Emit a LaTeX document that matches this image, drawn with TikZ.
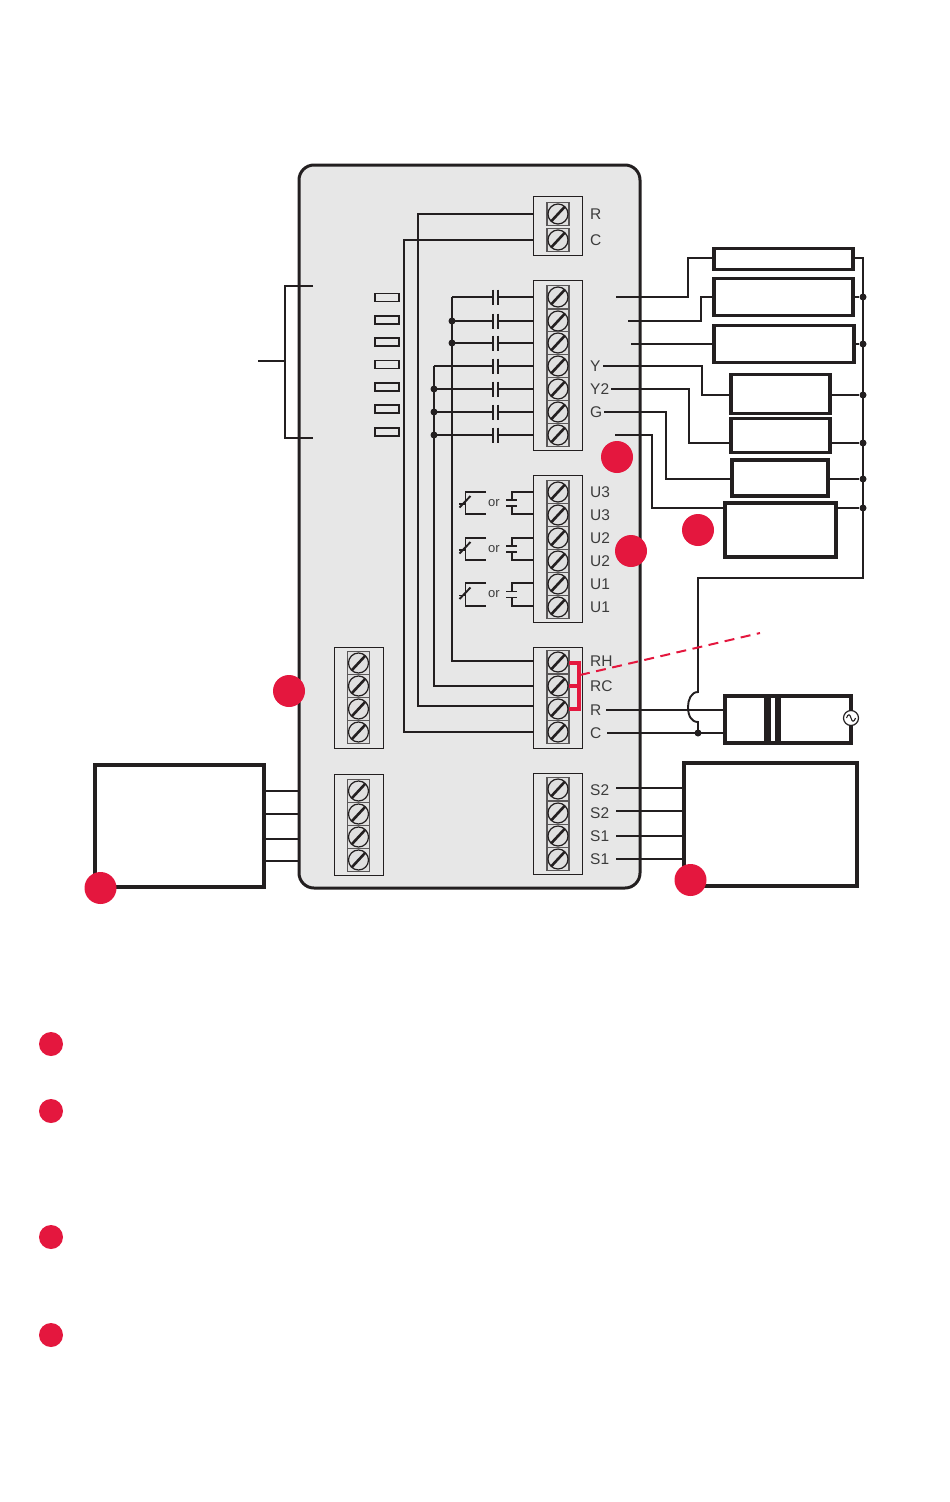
\documentclass[tikz,border=0pt]{standalone}
\usepackage{fontspec}
\setmainfont{Liberation Sans}
\definecolor{ink}{HTML}{231F20}
\definecolor{txt}{HTML}{3C3C3C}
\definecolor{panelgray}{HTML}{E7E7E7}
\definecolor{screwgray}{HTML}{E0E0E0}
\definecolor{hred}{HTML}{E4173E}
\tikzset{
  wire/.style={draw=ink,line width=2pt},
  thinwire/.style={draw=ink,line width=1.9pt},
  devbox/.style={draw=ink,fill=white,line width=3.3pt,inner sep=0pt,minimum width=#1},
  block/.style={draw=ink,fill=panelgray,line width=1pt,inner sep=0pt,minimum width=49pt},
  strip/.style={draw=ink!75,fill=screwgray,line width=1.4pt,inner sep=0pt,minimum width=22pt,minimum height=23pt},
  screwhead/.style={circle,draw=ink,fill=screwgray,line width=1.2pt,inner sep=0pt,minimum size=20pt},
  slash/.style={draw=ink,line width=2.6pt},
  term/.style={text=txt,font=\fontsize{15.5}{16}\selectfont,anchor=west,inner sep=0pt},
  ortext/.style={text=txt,font=\fontsize{13}{13}\selectfont,inner sep=0pt},
  dot/.style={circle,fill=ink,inner sep=0pt,minimum size=7pt},
  badge/.style={circle,fill=hred,inner sep=0pt,minimum size=#1},
  lamp/.style={draw=ink,fill=panelgray,line width=1.8pt,inner sep=0pt,minimum width=24pt,minimum height=8pt},
  jump/.style={draw=hred,line width=4pt},
  coil/.style={draw=ink,fill=white,line width=3.3pt,inner sep=0pt},
}
\newcommand{\screw}[3]{%
  \node[strip] (#1s) at (#2,#3) {};
  \node[screwhead] (#1) at (#2,#3) {};
  \draw[slash] ([shift={(-6.5pt,-7pt)}]#1.center) -- ([shift={(6.5pt,7pt)}]#1.center);
}
\newcommand{\relaycontact}[2]{%
  \coordinate (ct) at (512,#1);
  \coordinate (cb) at (512,#2);
  \draw[thinwire] (533,#1) -- (ct) -- (512,#1*0.5+#2*0.5-3);
  \draw[thinwire] (512,#1*0.5+#2*0.5+3) -- (cb) -- (533,#2);
  \draw[thinwire] (506,#1*0.5+#2*0.5-3) -- (517,#1*0.5+#2*0.5-3);
  \draw[thinwire] (506,#1*0.5+#2*0.5+3) -- (517,#1*0.5+#2*0.5+3);
  \node[ortext] at (494,#1*0.5+#2*0.5) {or};
  \draw[thinwire] (486,#1) -- (465.5,#1) -- (465.5,#2) -- (486,#2);
  \draw[thinwire] (459,#1*0.5+#2*0.5+1) -- (466,#1*0.5+#2*0.5+1);
  \draw[thinwire] (459.5,#1*0.5+#2*0.5+4.5) -- (470.5,#1*0.5+#2*0.5-7);
}
\begin{document}
\begin{tikzpicture}[x=1pt,y=-1pt]
\useasboundingbox (0,0) rectangle (950,1502);
\fill[white] (0,0) rectangle (950,1502);

% panel
\draw[ink,fill=panelgray,line width=3pt,rounded corners=15pt] (299,165) rectangle (640,888);

% terminal blocks
\node[block,minimum height=59pt] (blockA) at (557.5,226) {};
\node[block,minimum height=170pt] (blockB) at (557.5,365) {};
\node[block,minimum height=147pt] (blockC) at (557.5,548.5) {};
\node[block,minimum height=101pt] (blockD) at (557.5,697.5) {};
\node[block,minimum height=101pt] (blockE) at (557.5,823.5) {};
\node[block,minimum height=101pt] (blockF) at (358.5,697.5) {};
\node[block,minimum height=101pt] (blockG) at (358.5,825) {};

\screw{A1}{558}{214}\screw{A2}{558}{240}
\foreach \i/\y in {1/297,2/321,3/343,4/366,5/389,6/412,7/435}{\screw{B\i}{558}{\y}}
\foreach \i/\y in {1/492,2/515,3/538,4/561,5/584,6/607}{\screw{C\i}{558}{\y}}
\foreach \i/\y in {1/662,2/686,3/709,4/732}{\screw{D\i}{558}{\y}}
\foreach \i/\y in {1/789,2/813,3/836,4/859}{\screw{E\i}{558}{\y}}
\foreach \i/\y in {1/663,2/686,3/709,4/732}{\screw{F\i}{358.5}{\y}}
\foreach \i/\y in {1/791,2/814,3/837,4/860}{\screw{G\i}{358.5}{\y}}

% lamps
\foreach \i/\y in {1/297.5,2/320,3/342,4/364.5,5/387,6/409,7/432}{\node[lamp] (lamp\i) at (387,\y) {};}

% bracket
\coordinate (brT) at (313,286);
\coordinate (brB) at (313,438);
\coordinate (brS) at (258,361);
\draw[wire] (brT) -- (285,286) -- (285,438) -- (brB);
\draw[wire] (brS) -- (285,361);

% power wires in the panel
\coordinate (railR) at (418,214);
\coordinate (railC) at (404,240);
\coordinate (railH) at (452,297);
\coordinate (railK) at (434,366);
\draw[wire] (blockA.west |- A1) -- (railR) -- (418,706) -- (533,706);
\draw[wire] (blockA.west |- A2) -- (railC) -- (404,732) -- (blockD.west |- D4);
\draw[wire] (railH) -- (452,661) -- (533,661);
\draw[wire] (railK) -- (434,686) -- (blockD.west |- D2);

% relay contacts
\foreach \i/\y/\r in {1/297/452,2/321/452,3/343/452,4/366/434,5/389/434,6/412/434,7/435/434}{
  \draw[wire] (blockB.west |- B\i) -- (498,\y);
  \draw[wire] (493,\y) -- (\r,\y);
  \draw[wire] (493,\y-7.5) -- (493,\y+7.5);
  \draw[wire] (498,\y-7.5) -- (498,\y+7.5);
}
\foreach \r/\y/\n in {452/321/a,452/343/b,434/389/c,434/412/d,434/435/e}{\node[dot] (pd\n) at (\r,\y) {};}

% auxiliary contacts
\relaycontact{492}{514}
\relaycontact{538}{560}
\relaycontact{583}{606}

% devices on the right
\node[devbox=139pt,minimum height=21pt] (dev1) at (783.5,259) {};
\node[devbox=139pt,minimum height=37pt] (dev2) at (783.5,297) {};
\node[devbox=140pt,minimum height=37pt] (dev3) at (784,344) {};
\node[devbox=99pt,minimum height=39pt] (dev4) at (780.5,394) {};
\node[devbox=99pt,minimum height=34pt] (dev5) at (780.5,435.5) {};
\node[devbox=96pt,minimum height=36pt] (dev6) at (780,478) {};
\node[devbox=111pt,minimum height=54pt] (dev7) at (780.5,530) {};

\coordinate (t1) at (616,297);
\coordinate (t2) at (628,321);
\coordinate (t3) at (631,344);
\coordinate (tY) at (603,366);
\coordinate (tYtwo) at (611,389);
\coordinate (tG) at (604,412);
\coordinate (t7) at (615,435);
\coordinate (e4) at (731,395);
\coordinate (e5) at (731,443);
\coordinate (e6) at (732,479);
\coordinate (e7) at (725,508);
\draw[wire] (t1) -- (688,297) -- (688,258) -- (dev1.west |- 0,258);
\draw[wire] (t2) -- (701,321) -- (701,297) -- (dev2.west);
\draw[wire] (t3) -- (dev3.west);
\draw[wire] (tY) -- (702,366) -- (702,395) -- (e4);
\draw[wire] (tYtwo) -- (689,389) -- (689,443) -- (e5);
\draw[wire] (tG) -- (666,412) -- (666,479) -- (e6);
\draw[wire] (t7) -- (652,435) -- (652,508) -- (e7);

% common bus
\coordinate (busT) at (863,258);
\coordinate (busK) at (863,578);
\coordinate (bumpA) at (698,692);
\coordinate (bumpB) at (698,722);
\draw[thinwire] (dev1.east |- busT) -- (busT) -- (busK) -- (698,578) -- (bumpA)
  .. controls (691,692) and (688,700) .. (688,707)
  .. controls (688,715) and (691,722) .. (bumpB) -- (698,733);
\foreach \n/\y in {1/297,2/344,3/395,4/443,5/479,6/508}{
  \node[dot] (bd\n) at (863,\y) {};
}
\draw[wire] (dev2.east |- bd1) -- (bd1);
\draw[wire] (dev3.east |- bd2) -- (bd2);
\draw[wire] (dev4.east |- bd3) -- (bd3);
\draw[wire] (dev5.east |- bd4) -- (bd4);
\draw[wire] (dev6.east |- bd5) -- (bd5);
\draw[wire] (dev7.east |- bd6) -- (bd6);

% transformer
\node[coil,minimum width=41pt,minimum height=47pt] (trA) at (745.5,719.5) {};
\node[coil,minimum width=8pt,minimum height=47pt] (trB) at (773,719.5) {};
\node[coil,minimum width=72pt,minimum height=47pt] (trC) at (815,719.5) {};
\node[circle,draw=ink,fill=white,line width=1.2pt,inner sep=0pt,minimum size=15pt] (acs) at (851,718) {};
\draw[ink,line width=1.1pt] (846.5,718) .. controls (848,713.5) and (850,714) .. (851,718) .. controls (852,722) and (854,722.5) .. (855.5,718);
\coordinate (tR) at (606,710);
\coordinate (tC) at (607,733);
\draw[wire] (tR) -- (trA.west |- tR);
\draw[wire] (tC) -- (trA.west |- tC);
\node[dot] (cdot) at (698,733) {};

% jumper
\coordinate (dashA) at (580,675);
\coordinate (dashB) at (760,633);
\draw[hred,line width=2pt,dash pattern=on 10pt off 6.5pt] (dashA) -- (dashB);
\draw[jump] (569,663) -- (579,663) -- (579,709) -- (569,709);
\draw[jump] (569,686) -- (579,686);

% lower devices
\node[devbox=169pt,minimum height=122pt] (leftdev) at (179.5,826) {};
\node[devbox=173pt,minimum height=123pt] (rightdev) at (770.5,824.5) {};
\foreach \i/\y in {1/791,2/814,3/839,4/861}{
  \coordinate (lp\i) at (299,\y);
  \draw[wire] (leftdev.east |- lp\i) -- (lp\i);
}
\foreach \i/\y in {1/788,2/811,3/836,4/859}{
  \coordinate (rp\i) at (616,\y);
  \draw[wire] (rp\i) -- (rightdev.west |- rp\i);
}

% labels
\foreach \n/\y/\t in {lA/214/R,lB/240/C,lY/366/Y,lYb/389/Y2,lG/412/G,
  lU/492.5/U3,lUb/515/U3,lUc/538/U2,lUd/561/U2,lUe/584/U1,lUf/607/U1,
  lRH/661.5/RH,lRC/686.5/RC,lR/710/R,lC/733.5/C,
  lSa/790.5/S2,lSb/813.5/S2,lSc/836.5/S1,lSd/859.5/S1}{
  \node[term] (\n) at (590,\y) {\t};
}

% badges
\foreach \n/\x/\y in {a/617/457,b/631/551,c/698/530,d/289/691,e/100.5/888,f/690.5/880}{
  \node[badge=32pt] (badge\n) at (\x,\y) {};
}
\foreach \n/\y in {a/1044,b/1111,c/1237,d/1335}{
  \node[badge=24pt] (note\n) at (51,\y) {};
}
\end{tikzpicture}
\end{document}
